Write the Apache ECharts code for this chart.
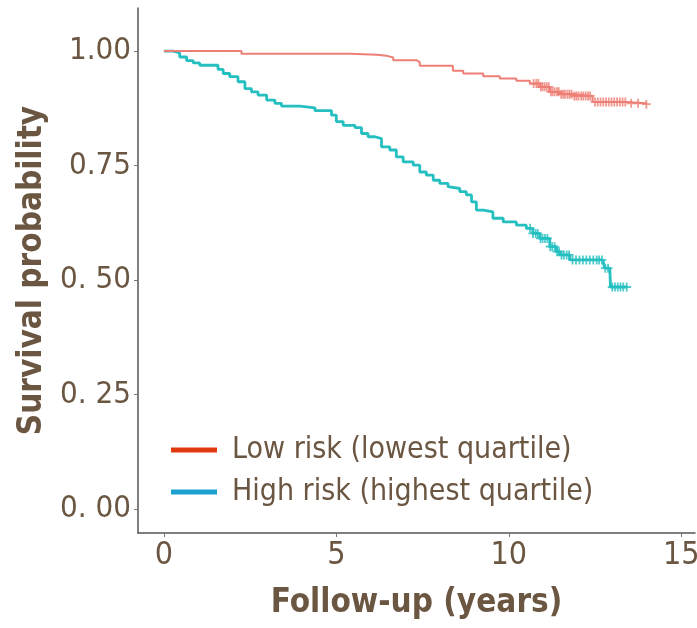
<!DOCTYPE html>
<html>
<head>
<meta charset="utf-8">
<script src="https://cdn.jsdelivr.net/npm/echarts@6/dist/echarts.min.js"></script>
<style>html,body{margin:0;padding:0;background:#fff}#c{width:697px;height:628px}</style>
</head>
<body>
<div id="c"></div>
<script>
// ---- data ----
const seriesNames = ['Low risk (lowest quartile)', 'High risk (highest quartile)'];
const lowTimes = [0, 2.25, 5.4, 6.17, 6.45, 6.65, 7.32, 7.42, 8.38, 8.68, 9.26, 9.74, 10.22, 10.61, 10.9, 11.19, 11.48, 11.86, 12.43, 13.41, 13.99];
const lowSurv  = [1.0, 0.994, 0.992, 0.990, 0.986, 0.980, 0.976, 0.968, 0.957, 0.951, 0.945, 0.940, 0.935, 0.929, 0.922, 0.911, 0.906, 0.902, 0.889, 0.886, 0.884];
const highTimes = [0, 0.27, 0.46, 0.66, 0.85, 1.04, 1.57, 1.72, 1.91, 2.15, 2.35, 2.54, 2.73, 2.98, 3.22, 3.41, 3.94, 4.38, 4.86, 5.0, 5.2, 5.54, 5.73, 5.92, 6.12, 6.31, 6.55, 6.74, 6.94, 7.23, 7.42, 7.61, 7.81, 8.0, 8.24, 8.29, 8.58, 8.77, 8.92, 9.06, 9.26, 9.54, 9.84, 10.22, 10.51, 10.7, 10.9, 11.19, 11.38, 11.48, 11.77, 12.73, 12.78, 12.93, 12.95, 13.42];
const highSurv  = [1.0, 0.996, 0.987, 0.979, 0.974, 0.969, 0.960, 0.951, 0.944, 0.933, 0.918, 0.911, 0.904, 0.893, 0.886, 0.880, 0.876, 0.870, 0.860, 0.846, 0.838, 0.833, 0.820, 0.813, 0.809, 0.791, 0.784, 0.769, 0.758, 0.751, 0.736, 0.729, 0.718, 0.711, 0.704, 0.700, 0.693, 0.686, 0.671, 0.653, 0.649, 0.635, 0.627, 0.620, 0.613, 0.602, 0.591, 0.573, 0.562, 0.555, 0.544, 0.540, 0.526, 0.522, 0.485, 0.485];
const lowCensor = [10.72, 10.8, 10.86, 10.93, 10.98, 11.04, 11.1, 11.16, 11.22, 11.27, 11.33, 11.4, 11.45, 11.52, 11.58, 11.63, 11.7, 11.76, 11.82, 11.9, 11.96, 12.02, 12.1, 12.16, 12.23, 12.3, 12.36, 12.5, 12.58, 12.66, 12.74, 12.82, 12.9, 12.98, 13.06, 13.14, 13.22, 13.3, 13.38, 13.55, 13.75, 13.99];
const highCensor = [10.62, 10.7, 10.78, 10.84, 10.92, 10.98, 11.05, 11.12, 11.2, 11.26, 11.33, 11.4, 11.46, 11.53, 11.6, 11.68, 11.75, 11.85, 11.95, 12.05, 12.15, 12.25, 12.35, 12.45, 12.55, 12.62, 12.7, 12.8, 12.88, 13.0, 13.08, 13.16, 13.24, 13.32, 13.42];
const xTicks = [0, 5, 10, 15];
const xTickLabels = ['0', '5', '10', '15'];
const yTicks = [0, 0.25, 0.5, 0.75, 1.0];
const yTickLabels = ['0. 00', '0. 25', '0. 50', '0.75', '1.00'];

// ---- build ----
function pairs(t, s) { return t.map((v, i) => [v, s[i]]); }
function survAt(t, times, surv) {
  let v = surv[0];
  for (let i = 0; i < times.length; i++) { if (times[i] <= t) v = surv[i]; }
  return v;
}
const plusPath = 'path://M4,0h2v4h4v2h-4v4h-2v-4h-4v-2h4z';
const FONT = "'DejaVu Sans Condensed', 'Roboto', sans-serif";
const TXT = '#6B5642';
const lowColor = '#EE7F76', highColor = '#25BFC0';

const chart = echarts.init(document.getElementById('c'), null, {renderer: 'canvas'});
chart.setOption({
  animation: false,
  backgroundColor: '#fff',
  grid: {left: 138, top: 8, right: 2, bottom: 95, containLabel: false, outerBoundsMode: 'none'},
  xAxis: {
    type: 'value', min: -0.75, max: 15.4,
    splitLine: {show: false},
    axisLine: {show: true, onZero: false, lineStyle: {color: '#555', width: 1.5}},
    axisTick: {show: true, length: 4, lineStyle: {color: '#777'}, customValues: xTicks},
    axisLabel: {customValues: xTicks, margin: 7, color: TXT, fontFamily: FONT, fontSize: 32,
      formatter: v => xTickLabels[xTicks.indexOf(v)]},
    name: 'Follow-up (years)', nameLocation: 'middle', nameGap: 54,
    nameTextStyle: {color: TXT, fontFamily: FONT, fontSize: 33, fontWeight: 'bold'}
  },
  yAxis: {
    type: 'value', min: -0.052, max: 1.094,
    splitLine: {show: false},
    axisLine: {show: true, onZero: false, lineStyle: {color: '#555', width: 1.5}},
    axisTick: {show: true, length: 4, lineStyle: {color: '#777'}, customValues: yTicks},
    axisLabel: {customValues: yTicks, margin: 7, color: TXT, fontFamily: FONT, fontSize: 31,
      formatter: v => yTickLabels[yTicks.indexOf(v)]},
    name: 'Survival probability', nameLocation: 'middle', nameGap: 86,
    nameTextStyle: {color: TXT, fontFamily: FONT, fontSize: 33, fontWeight: 'bold'}
  },
  legend: {
    orient: 'vertical', left: 171, top: 435, itemWidth: 46, itemHeight: 5, itemGap: 12,
    icon: 'rect', padding: 0,
    textStyle: {color: TXT, fontFamily: FONT, fontSize: 30, padding: [0, 0, 0, 10]},
    data: [
      {name: seriesNames[0], itemStyle: {color: '#E1390F'}},
      {name: seriesNames[1], itemStyle: {color: '#1CA0D0'}}
    ]
  },
  series: [
    {name: seriesNames[0], type: 'line', step: 'end', showSymbol: false, symbol: 'none',
      data: pairs(lowTimes, lowSurv), lineStyle: {color: lowColor, width: 2}, itemStyle: {color: lowColor}, z: 3},
    {name: seriesNames[1], type: 'line', step: 'end', showSymbol: false, symbol: 'none',
      data: pairs(highTimes, highSurv), lineStyle: {color: highColor, width: 2.8}, itemStyle: {color: highColor}, z: 2},
    {name: 'lowCens', type: 'scatter', symbol: plusPath, symbolSize: 9,
      data: lowCensor.map(t => [t, survAt(t, lowTimes, lowSurv)]), itemStyle: {color: lowColor}, z: 3},
    {name: 'highCens', type: 'scatter', symbol: plusPath, symbolSize: 9,
      data: highCensor.map(t => [t, survAt(t, highTimes, highSurv)]), itemStyle: {color: highColor}, z: 2}
  ]
});
</script>
</body>
</html>
